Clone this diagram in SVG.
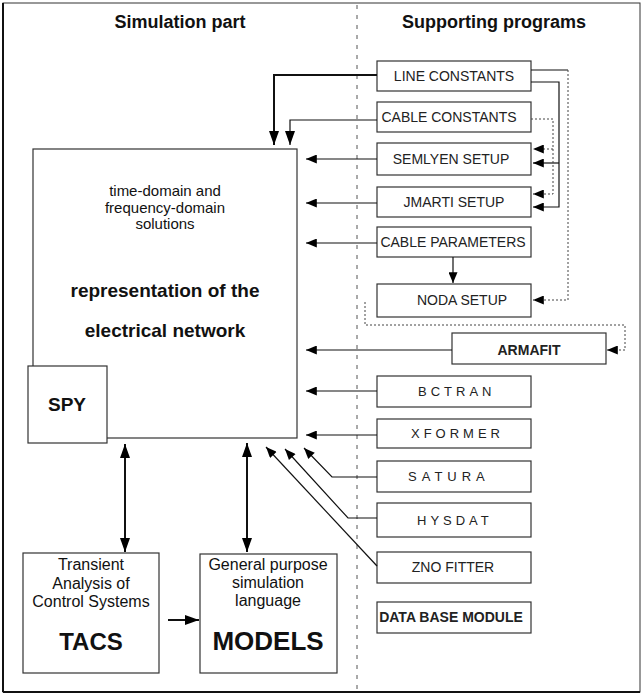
<svg xmlns="http://www.w3.org/2000/svg" width="644" height="696" viewBox="0 0 644 696">
<style>
text{font-family:"Liberation Sans",Arial,sans-serif;fill:#111}
.hd{font-size:18px;font-weight:bold;text-anchor:middle}
.box{fill:#fff;stroke:#333;stroke-width:1.2}
.lbl{font-size:14px;text-anchor:middle;fill:#222}
.sp{font-size:13px;fill:#222}
.mid{text-anchor:middle}
.c{fill:none;stroke:#111;stroke-width:1.2}
.ct{fill:none;stroke:#111;stroke-width:2}
.cd{fill:none;stroke:#444;stroke-width:1;stroke-dasharray:2 2}
</style>
<defs>
<marker id="ah" viewBox="0 0 12 10" refX="12" refY="5" markerWidth="12" markerHeight="9" markerUnits="userSpaceOnUse" orient="auto-start-reverse"><path d="M0,0 L12,5 L0,10 z" fill="#000"/></marker>
<marker id="ahb" viewBox="0 0 14 10" refX="14" refY="5" markerWidth="14" markerHeight="10" markerUnits="userSpaceOnUse" orient="auto-start-reverse"><path d="M0,0 L14,5 L0,10 z" fill="#000"/></marker>
</defs>
<rect x="0" y="0" width="644" height="696" fill="#fff"/>
<g id="frame">
<rect x="3" y="3" width="637" height="689" fill="none" stroke="#333" stroke-width="1"/>
<line x1="3" y1="3" x2="3" y2="692" stroke="#111" stroke-width="2"/>
<line x1="3" y1="692" x2="640" y2="692" stroke="#111" stroke-width="2"/>
<line x1="357" y1="5" x2="357" y2="690" stroke="#555" stroke-width="1" stroke-dasharray="4 6"/>
</g>
<g id="headers">
<text class="hd" x="180" y="28">Simulation part</text>
<text class="hd" x="494" y="28">Supporting programs</text>
</g>
<g id="main">
<rect class="box" x="33" y="149" width="264" height="289"/>
<text class="mid" x="165" y="196" font-size="15">time-domain and</text>
<text class="mid" x="165" y="213" font-size="15">frequency-domain</text>
<text class="mid" x="165" y="229" font-size="15">solutions</text>
<text class="mid" x="165" y="297" font-size="19" font-weight="bold">representation of the</text>
<text class="mid" x="165" y="337" font-size="19" font-weight="bold">electrical network</text>
</g>
<g id="spy">
<rect class="box" x="28" y="366" width="79" height="77"/>
<text class="mid" x="67" y="411" font-size="19" font-weight="bold">SPY</text>
</g>
<g id="tacs">
<rect class="box" x="23" y="553" width="136" height="120"/>
<text class="mid" x="91" y="570" font-size="16">Transient</text>
<text class="mid" x="91" y="589" font-size="16">Analysis of</text>
<text class="mid" x="91" y="607" font-size="16">Control Systems</text>
<text class="mid" x="91" y="650" font-size="24" font-weight="bold">TACS</text>
</g>
<g id="models">
<rect class="box" x="200" y="554" width="137" height="119"/>
<text class="mid" x="268" y="570" font-size="16">General purpose</text>
<text class="mid" x="268" y="588" font-size="16">simulation</text>
<text class="mid" x="268" y="606" font-size="16">language</text>
<text class="mid" x="268" y="650" font-size="26" font-weight="bold">MODELS</text>
</g>
<g id="line_constants"><rect class="box" x="377" y="61" width="154" height="30"/><text class="lbl" x="454" y="81">LINE CONSTANTS</text></g>
<g id="cable_constants"><rect class="box" x="377" y="102" width="154" height="30"/><text class="lbl" x="449" y="122">CABLE CONSTANTS</text></g>
<g id="semlyen_setup"><rect class="box" x="377" y="143" width="154" height="32"/><text class="lbl" x="451" y="164" font-size="13">SEMLYEN SETUP</text></g>
<g id="jmarti_setup"><rect class="box" x="377" y="187" width="154" height="30"/><text class="lbl" x="454" y="207" font-size="13.5">JMARTI SETUP</text></g>
<g id="cable_parameters"><rect class="box" x="377" y="227" width="154" height="30"/><text class="lbl" x="453" y="247" font-size="13.5">CABLE PARAMETERS</text></g>
<g id="noda_setup"><rect class="box" x="377" y="284" width="154" height="33"/><text class="lbl" x="462" y="305">NODA SETUP</text></g>
<g id="armafit"><rect class="box" x="452" y="333" width="154" height="31"/><text class="lbl" x="529" y="355" font-size="15" font-weight="bold">ARMAFIT</text></g>
<g id="bctran"><rect class="box" x="377" y="376" width="154" height="31"/><text class="sp" x="418" y="396" letter-spacing="4">BCTRAN</text></g>
<g id="xformer"><rect class="box" x="377" y="419" width="154" height="29"/><text class="sp" x="411" y="438" letter-spacing="4">XFORMER</text></g>
<g id="satura"><rect class="box" x="377" y="461" width="154" height="31"/><text class="sp" x="408" y="481" letter-spacing="5">SATURA</text></g>
<g id="hysdat"><rect class="box" x="377" y="503" width="154" height="34"/><text class="sp" x="417" y="525" letter-spacing="4">HYSDAT</text></g>
<g id="zno_fitter"><rect class="box" x="377" y="552" width="154" height="31"/><text class="lbl" x="453" y="572" font-size="13">ZNO FITTER</text></g>
<g id="data_base_module"><rect class="box" x="377" y="602" width="154" height="31"/><text class="lbl" x="451" y="622" font-size="11" font-weight="bold">DATA BASE MODULE</text></g>
<g id="connectors">
<path class="ct" d="M377,75 H274 V145" marker-end="url(#ahb)"/>
<path class="c" d="M377,120 H290 V145" marker-end="url(#ahb)"/>
<path class="c" d="M377,159 H306" marker-end="url(#ah)"/>
<path class="c" d="M377,203 H306" marker-end="url(#ah)"/>
<path class="c" d="M377,243 H306" marker-end="url(#ah)"/>
<path class="c" d="M452,350 H306" marker-end="url(#ah)"/>
<path class="c" d="M377,391 H306" marker-end="url(#ah)"/>
<path class="c" d="M377,435 H306" marker-end="url(#ah)"/>
<path class="c" d="M377,477 H332 L304,448" marker-end="url(#ah)"/>
<path class="c" d="M377,518 H348 L285,449" marker-end="url(#ah)"/>
<path class="c" d="M377,566 L266,447" marker-end="url(#ah)"/>
<path class="ct" d="M125,444 V552" marker-start="url(#ahb)" marker-end="url(#ahb)"/>
<path class="ct" d="M247,443 V552" marker-start="url(#ahb)" marker-end="url(#ahb)"/>
<path class="ct" d="M168,620 H199" marker-end="url(#ahb)"/>
<path class="c" d="M453,257 V283" marker-end="url(#ah)"/>
<path class="c" d="M531,70 H568"/>
<path class="cd" d="M568,70 V300 H533" marker-end="url(#ah)"/>
<path class="c" d="M531,82 H559 V207 H533" marker-end="url(#ah)"/>
<path class="c" d="M559,163 H533" marker-end="url(#ah)"/>
<path class="cd" d="M531,119 H553 V194 H533" marker-end="url(#ah)"/>
<path class="cd" d="M553,149 H533" marker-end="url(#ah)"/>
<path class="cd" d="M365,302 V325 H625 V350 H607" marker-end="url(#ah)"/>
</g>
</svg>
